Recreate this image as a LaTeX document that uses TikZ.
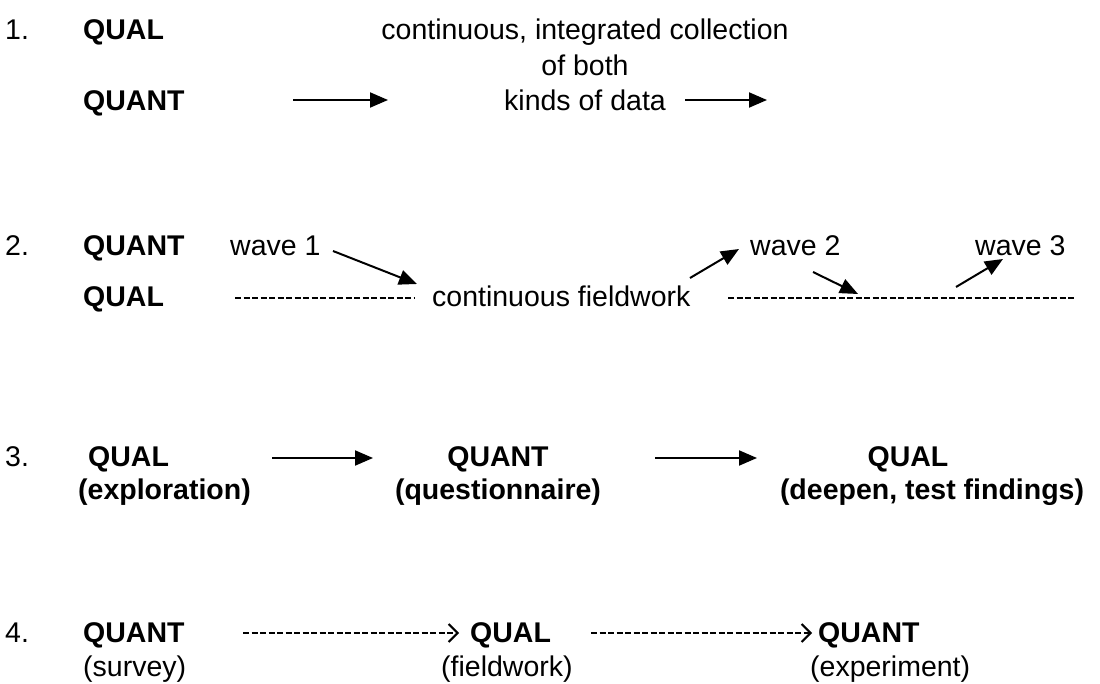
\documentclass[tikz,border=0pt]{standalone}
\usepackage{fontspec}
\setmainfont{Liberation Sans}
\usetikzlibrary{arrows.meta}
\begin{document}
\begin{tikzpicture}[x=1pt,y=-1pt,
  txt/.style={inner sep=0pt, font=\fontsize{28.5}{34}\selectfont, anchor=base west},
  btxt/.style={txt, font=\fontsize{28.5}{34}\selectfont\bfseries},
  ctxt/.style={txt, anchor=base},
  cbtxt/.style={btxt, anchor=base},
  solidarrow/.style={line width=2pt, arrows={-Triangle[length=18pt,width=15pt]}},
  dashline/.style={line width=2pt, dash pattern=on 6pt off 2.5pt},
  dasharrow/.style={dashline, arrows={-Straight Barb[length=9pt,width=18pt,line width=2pt]}}
]
\fill[white] (0,0) rectangle (1100,684);
\useasboundingbox (0,0) rectangle (1100,684);

% 1. simultaneous, integrated collection
\node[txt]  (n1)    at (5,40)   {1.};
\node[btxt] (qual1) at (83,40)  {QUAL};
\node[btxt] (quant1) at (83,111) {QUANT};
\node[ctxt] (c1a) at (585,40)  {continuous, integrated collection};
\node[ctxt] (c1b) at (585,76)  {of both};
\node[ctxt] (c1c) at (585,111) {kinds of data};
\coordinate (a1s) at (293,100);
\coordinate (a1e) at (388,100);
\coordinate (a2s) at (685,100);
\coordinate (a2e) at (767,100);
\draw[solidarrow] (a1s) -- (a1e);
\draw[solidarrow] (a2s) -- (a2e);

% 2. continuous fieldwork with survey waves
\node[txt]  (n2)     at (5,256)   {2.};
\node[btxt] (quant2) at (83,256)  {QUANT};
\node[btxt] (qual2)  at (83,307)  {QUAL};
\node[txt]  (w1)     at (230,256) {wave 1};
\node[txt]  (w2)     at (750,256) {wave 2};
\node[txt]  (w3)     at (975,256) {wave 3};
\node[txt]  (field)  at (432,307) {continuous fieldwork};
\coordinate (d1s) at (235,298);
\coordinate (d1e) at (414,298);
\coordinate (d2s) at (728,298);
\coordinate (d2e) at (1074,298);
\draw[dashline] (d1s) -- (d1e);
\draw[dashline] (d2s) -- (d2e);
\coordinate (w1s) at (333,251);
\coordinate (w1e) at (417,284);
\coordinate (w2as) at (690,278);
\coordinate (w2ae) at (739,249);
\coordinate (w2bs) at (813,272);
\coordinate (w2be) at (858,294);
\coordinate (w3s) at (956,287);
\coordinate (w3e) at (1003,259);
\draw[solidarrow] (w1s) -- (w1e);
\draw[solidarrow] (w2as) -- (w2ae);
\draw[solidarrow] (w2bs) -- (w2be);
\draw[solidarrow] (w3s) -- (w3e);

% 3. exploration, questionnaire, deepening
\node[txt]   (n3)    at (5,466)   {3.};
\node[btxt]  (qual3) at (88,466)  {QUAL};
\node[btxt]  (expl)  at (78,499)  {(exploration)};
\node[cbtxt] (quant3) at (498,466) {QUANT};
\node[cbtxt] (quest) at (498,499) {(questionnaire)};
\node[cbtxt] (qual3b) at (908,466) {QUAL};
\node[cbtxt] (deep)  at (932,499) {(deepen, test findings)};
\coordinate (b1s) at (272,458);
\coordinate (b1e) at (373,458);
\coordinate (b2s) at (655,458);
\coordinate (b2e) at (757,458);
\draw[solidarrow] (b1s) -- (b1e);
\draw[solidarrow] (b2s) -- (b2e);

% 4. survey, fieldwork, experiment
\node[txt]  (n4)     at (5,642)   {4.};
\node[btxt] (quant4) at (83,642)  {QUANT};
\node[txt]  (surv)   at (83,676)  {(survey)};
\node[btxt] (qual4)  at (470,642) {QUAL};
\node[txt]  (fieldw) at (441,676) {(fieldwork)};
\node[btxt] (quant4b) at (818,642) {QUANT};
\node[txt]  (exper)  at (810,676) {(experiment)};
\coordinate (e1s) at (243,633);
\coordinate (e1e) at (459,633);
\coordinate (e2s) at (591,633);
\coordinate (e2e) at (812,633);
\draw[dasharrow] (e1s) -- (e1e);
\draw[dasharrow] (e2s) -- (e2e);
\end{tikzpicture}
\end{document}
